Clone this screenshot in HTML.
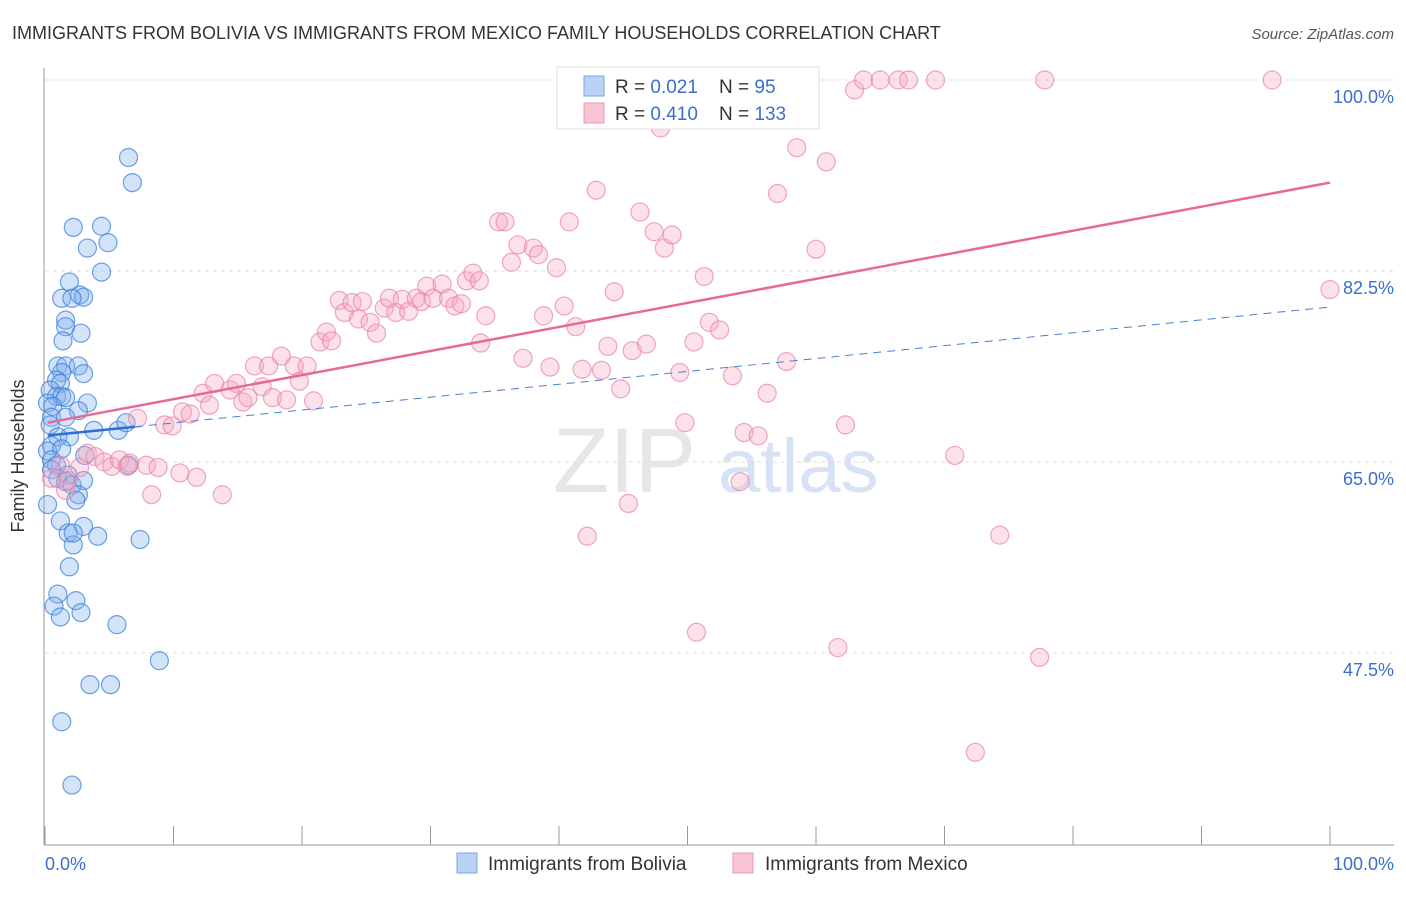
<!DOCTYPE html>
<html><head><meta charset="utf-8"><style>
body{margin:0;background:#fff;font-family:"Liberation Sans",sans-serif;}
svg text{font-family:"Liberation Sans",sans-serif;}
</style></head><body>
<svg id="chart" width="1406" height="892" viewBox="0 0 1406 892">
<text x="12" y="39" font-size="18" fill="#333">IMMIGRANTS FROM BOLIVIA VS IMMIGRANTS FROM MEXICO FAMILY HOUSEHOLDS CORRELATION CHART</text>
<text x="1394" y="39" font-size="15" fill="#555" text-anchor="end" font-style="italic">Source: ZipAtlas.com</text>
<g>
<text x="553" y="492" font-size="92" fill="#e6e6e6" font-family="Liberation Serif">ZIP</text>
<text x="718" y="492" font-size="76" fill="#d6e3f5">atlas</text>
</g>
<g id="grid"></g>
<line x1="44" y1="68" x2="44" y2="845" stroke="#999"/>
<line x1="44" y1="845" x2="1394" y2="845" stroke="#999"/>
<g id="xticks"></g>
<text x="24" y="456" font-size="18" fill="#333" text-anchor="middle" transform="rotate(-90 24 456)">Family Households</text>
<text x="45" y="870" font-size="18" fill="#3a6fd0">0.0%</text>
<text x="1394" y="870" font-size="18" fill="#3a6fd0" text-anchor="end">100.0%</text>
<g id="pts"></g>
<g id="trends"></g>
<g>
<rect x="557" y="67" width="262" height="62" fill="#fff" stroke="#ddd"/>
<rect x="584" y="76" width="20" height="20" fill="#b8d3f4" stroke="#7aa6e0"/>
<text x="615" y="93" font-size="19" fill="#333">R = <tspan fill="#3a6fd0">0.021</tspan>&#160;&#160;&#160; N = <tspan fill="#3a6fd0">95</tspan></text>
<rect x="584" y="103" width="20" height="20" fill="#f9c4d4" stroke="#eb9ab4"/>
<text x="615" y="120" font-size="19" fill="#333">R = <tspan fill="#3a6fd0">0.410</tspan>&#160;&#160;&#160; N = <tspan fill="#3a6fd0">133</tspan></text>
</g>
<g>
<rect x="457" y="853" width="20" height="20" fill="#b8d3f4" stroke="#7aa6e0"/>
<text x="488" y="870" font-size="19" fill="#333">Immigrants from Bolivia</text>
<rect x="733" y="853" width="20" height="20" fill="#f9c4d4" stroke="#eb9ab4"/>
<text x="765" y="870" font-size="19" fill="#333">Immigrants from Mexico</text>
</g>
</svg>
<script>
const yTicks=[100,82.5,65,47.5];
const yTickLabels=["100.0%","82.5%","65.0%","47.5%"];
const xTicks=[0,10,20,30,40,50,60,70,80,90,100];
const boliviaX=[6.5,6.8,2.2,4.4,3.3,4.9,4.4,1.9,1.3,2.7,3.0,2.1,1.6,1.6,2.8,1.4,1.0,1.6,2.6,1.3,3.0,0.9,1.2,0.4,0.9,1.3,1.6,0.2,3.3,2.6,0.6,0.5,1.6,0.4,3.8,5.7,6.3,1.0,1.9,0.5,0.2,1.3,0.5,0.9,3.1,6.5,0.5,1.8,1.0,1.6,2.1,3.0,2.6,2.4,1.2,3.0,1.8,2.2,2.2,4.1,7.4,1.9,1.0,0.7,2.4,2.8,1.2,5.6,8.9,3.5,5.1,1.3,2.1,0.2];
const boliviaY=[92.9,90.6,86.5,86.6,84.6,85.1,82.4,81.5,80.0,80.3,80.1,80.0,78.0,77.4,76.8,76.1,73.8,73.8,73.8,73.2,73.1,72.5,72.2,71.6,71.0,71.0,70.9,70.4,70.4,69.7,70.1,69.1,69.1,68.4,67.9,67.9,68.6,67.3,67.3,66.5,66.0,66.2,65.2,64.7,65.6,64.7,64.3,63.8,63.5,63.2,62.9,63.3,62.0,61.5,59.6,59.1,58.5,57.4,58.5,58.2,57.9,55.4,52.9,51.8,52.3,51.2,50.8,50.1,46.8,44.6,44.6,41.2,35.4,61.1];
const mexicoX=[0.5,1.2,1.6,1.8,2.7,3.3,3.9,4.6,5.2,5.8,6.4,6.6,7.9,8.3,8.8,10.5,11.8,13.8,7.2,9.3,9.9,10.7,11.3,12.3,12.8,13.2,14.4,14.9,15.4,15.8,16.3,16.9,17.4,17.7,18.4,18.8,19.4,19.8,20.4,20.9,21.4,21.9,22.3,22.9,23.3,23.9,24.4,24.7,25.3,25.8,26.4,26.8,27.3,27.8,28.3,28.9,29.3,29.7,30.2,30.9,31.4,31.9,32.4,32.8,33.3,33.8,34.3,33.9,35.3,35.8,36.3,36.8,37.2,38.0,38.4,38.8,39.3,39.8,40.4,40.8,41.3,41.8,42.2,42.9,43.3,43.8,44.3,44.8,45.4,45.7,46.3,46.8,47.4,47.9,48.2,48.8,49.4,49.8,50.5,50.7,51.3,51.7,52.5,53.5,54.1,54.4,54.7,55.5,56.2,56.7,57.0,57.7,58.5,58.9,60.0,60.8,61.7,62.3,63.0,63.7,65.0,66.4,67.2,69.3,70.8,72.4,74.3,77.4,77.8,95.5,100.0];
const mexicoY=[63.5,64.7,62.4,63.3,64.5,65.8,65.5,65.0,64.6,65.2,64.6,64.9,64.7,62.0,64.5,64.0,63.6,62.0,69.0,68.4,68.3,69.6,69.4,71.3,70.2,72.2,71.6,72.2,70.5,70.9,73.8,71.9,73.8,70.9,74.7,70.7,73.8,72.4,73.8,70.6,76.0,76.9,76.1,79.8,78.7,79.6,78.1,79.7,77.8,76.8,79.1,80.0,78.7,79.9,78.8,80.0,79.7,81.1,80.0,81.3,80.0,79.3,79.5,81.6,82.3,81.6,78.4,75.9,87.0,87.0,83.3,84.9,74.5,84.6,84.0,78.4,73.7,82.8,79.3,87.0,77.4,73.5,58.2,89.9,73.4,75.6,80.6,71.7,61.2,75.2,87.9,75.8,86.1,95.6,84.6,85.8,73.2,68.6,76.0,49.4,82.0,77.8,77.1,72.9,63.2,67.7,100,67.4,71.3,100,89.6,74.2,93.8,100,84.5,92.5,48.0,68.4,99.1,100,100,100,100,100,65.6,38.4,58.3,47.1,100,100,80.8];
const trendBolivia=[67.4,79.2];
const trendMexico=[68.6,90.6];
const NS="http://www.w3.org/2000/svg";
const sx=v=>45+v*12.85;
const sy=v=>80+(100-v)*191/17.5;
function mk(tag,attrs,parent){const e=document.createElementNS(NS,tag);for(const k in attrs)e.setAttribute(k,attrs[k]);parent.appendChild(e);return e;}
const grid=document.getElementById('grid');
yTicks.forEach((t,i)=>{
 const l=mk('line',{x1:45,x2:1394,y1:sy(t),y2:sy(t),stroke:'#ddd','stroke-dasharray':'4,4'},grid);
 
 
 const tx=mk('text',{x:1394,y:sy(t)+23,'font-size':18,fill:'#3a6fd0','text-anchor':'end'},grid);
 tx.textContent=yTickLabels[i];
 
 
});
const xt=document.getElementById('xticks');
xTicks.forEach(t=>{
 const l=mk('line',{x1:sx(t),x2:sx(t),y1:826,y2:845,stroke:'#999'},xt);
 
 
});
const pts=document.getElementById('pts');
boliviaX.forEach((x,i)=>{
 const c=mk('circle',{cx:sx(x),cy:sy(boliviaY[i]),r:9,fill:'rgba(130,176,235,0.35)',stroke:'rgba(60,130,220,0.75)','stroke-width':1.2},pts);
 
 
});
mexicoX.forEach((x,i)=>{
 const c=mk('circle',{cx:sx(x),cy:sy(mexicoY[i]),r:9,fill:'rgba(245,170,195,0.35)',stroke:'rgba(232,130,165,0.7)','stroke-width':1.2},pts);
 
 
});
const tr=document.getElementById('trends');
const bAt=x=>trendBolivia[0]+(trendBolivia[1]-trendBolivia[0])*x/100;
const b1=mk('line',{x1:sx(0.2),y1:sy(bAt(0.2)),x2:sx(7),y2:sy(bAt(7)),stroke:'#2a6fd6','stroke-width':2.5},tr);


const b2=mk('line',{x1:sx(7),y1:sy(bAt(7)),x2:sx(100),y2:sy(bAt(100)),stroke:'#4a7fd0','stroke-width':1,'stroke-dasharray':'8,6'},tr);


const m1=mk('line',{x1:sx(0.2),y1:sy(trendMexico[0]),x2:sx(100),y2:sy(trendMexico[1]),stroke:'#e8689a','stroke-width':2.5},tr);


</script>
</body></html>
